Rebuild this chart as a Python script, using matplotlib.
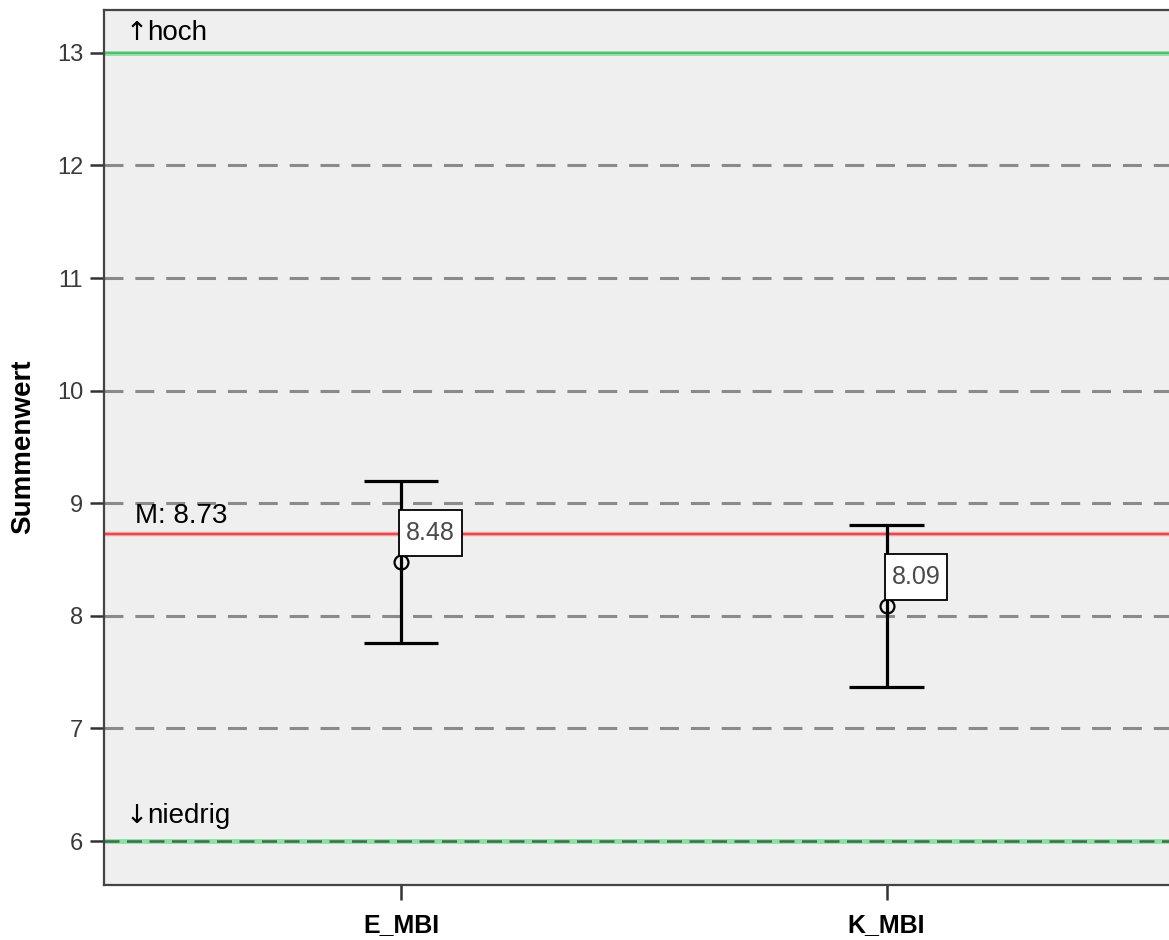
import matplotlib
matplotlib.use("Agg")
import matplotlib.pyplot as plt
import matplotlib.transforms as mtransforms
from matplotlib.path import Path

plt.rcParams['font.family'] = ['Liberation Sans', 'DejaVu Sans']

categories = ["E_MBI", "K_MBI"]
means = [8.48, 8.09]
upper = [9.20, 8.81]
lower = [7.76, 7.37]
overall_mean = 8.73
grid_levels = [7, 8, 9, 10, 11, 12]
limit_high = 13
limit_low = 6
yticks = [6, 7, 8, 9, 10, 11, 12, 13]


def label_box(x0, y0, width, height, mutation_size):
    # kasten mit mehr platz oben/unten als seitlich
    px = 0.28 * mutation_size
    py = 0.43 * mutation_size
    x1, y1 = x0 - px, y0 - py
    x2, y2 = x0 + width + px, y0 + height + py
    return Path([(x1, y1), (x2, y1), (x2, y2), (x1, y2), (x1, y1)], closed=True)


fig = plt.figure(figsize=(11.69, 9.40), dpi=100)
ax = fig.add_axes([104 / 1169, 55 / 940, 1.0 - 104 / 1169 + 0.02, 875 / 940])
ax.set_facecolor('#efefef')

x = list(range(len(categories)))

# hilfslinien
for g in grid_levels:
    ax.axhline(g, color='#8a8a8a', lw=2.2, dashes=(6.2, 3.9), zorder=1)
ax.axhline(limit_high, color='#8fe0a4', lw=3.5, zorder=2)
ax.axhline(limit_high, color='#4fb36a', lw=1.2, zorder=2)
ax.axhline(limit_low, color='#8fe0a4', lw=3.5, zorder=2)
ax.axhline(limit_low, color='#3d6a4c', lw=1.8, dashes=(6, 3), zorder=2)
ax.axhline(overall_mean, color='#f0a0a3', lw=3.2, zorder=2)
ax.axhline(overall_mean, color='#e8474d', lw=1.4, zorder=2)

# fehlerbalken
for xi, m, lo, hi in zip(x, means, lower, upper):
    ax.vlines(xi, lo, hi, color='black', lw=2.3, zorder=3)
    ax.hlines([lo, hi], xi - 0.077, xi + 0.077, color='black', lw=2.3, zorder=3)
    ax.plot(xi, m, marker='o', ms=10, mfc='none', mec='black', mew=1.6, zorder=4)
    ax.annotate(f"{m:.2f}", (xi, m), xytext=(3.6, 12), textcoords='offset points',
                fontsize=18, color='#4a4a4a', ha='left', va='bottom',
                bbox=dict(boxstyle=label_box, fc='white', ec='black', lw=1.3),
                zorder=5)

trans = mtransforms.blended_transform_factory(ax.transAxes, ax.transData)
arrow_font = ['DejaVu Sans']
ax.text(0.020, 13.115, "\u2191", fontsize=19, va='baseline', ha='left',
        transform=trans, family=arrow_font)
ax.text(0.0395, 13.115, "hoch", fontsize=20, va='baseline', ha='left', transform=trans)
ax.text(0.020, 6.16, "\u2193", fontsize=19, va='baseline', ha='left',
        transform=trans, family=arrow_font)
ax.text(0.0395, 6.16, "niedrig", fontsize=20, va='baseline', ha='left', transform=trans)
ax.text(0.0285, 8.825, "M: 8.73", fontsize=20, va='baseline', ha='left', transform=trans)

ax.set_xlim(-0.612, 1.63)
ax.set_ylim(5.61, 13.38)
ax.set_xticks(x)
ax.set_xticklabels(categories, fontsize=18, fontweight='bold')
ax.set_yticks(yticks)
ax.set_yticklabels([str(t) for t in yticks], fontsize=17, color='#3a3a3a')
ax.tick_params(axis='y', length=10, width=1.8, direction='out', color='#333333', pad=5)
ax.tick_params(axis='x', length=11, width=1.8, direction='out', color='#333333', pad=9)
fig.text(23 / 1169, 1 - 447 / 940, "Summenwert", fontsize=20, fontweight='bold',
         rotation=90, ha='center', va='center')

for s in ['left', 'bottom', 'top']:
    ax.spines[s].set_color('#444444')
    ax.spines[s].set_linewidth(1.6)
ax.spines['right'].set_visible(False)

fig.savefig("out.png", dpi=100, facecolor='white')
